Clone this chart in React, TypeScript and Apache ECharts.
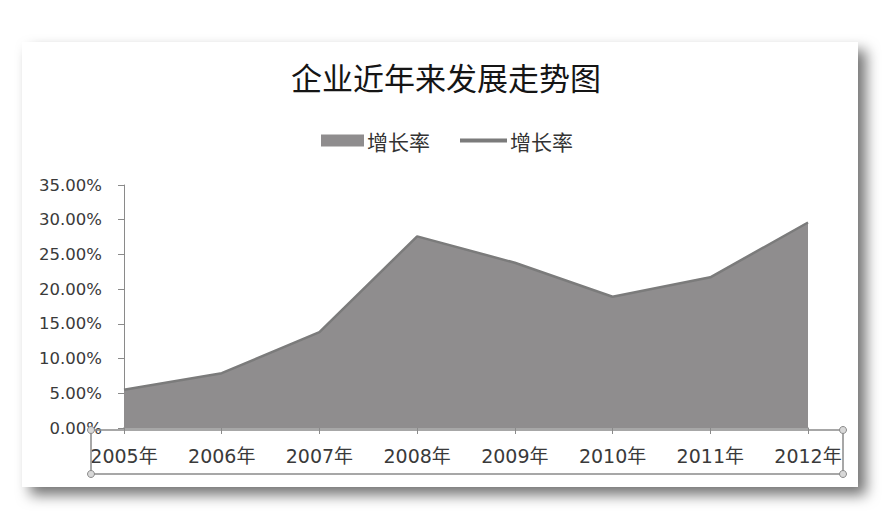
import React, { useEffect, useRef } from "react";
import * as echarts from "echarts";

const categories = ["2005年", "2006年", "2007年", "2008年", "2009年", "2010年", "2011年", "2012年"];
const growthRate = [5.5, 7.9, 13.8, 27.6, 23.8, 18.9, 21.7, 29.6];
const seriesName = "增长率";
const titleText = "企业近年来发展走势图";

export default function App() {
  const ref = useRef<HTMLDivElement>(null);
  useEffect(() => {
    if (!ref.current) return;
    const chart = echarts.init(ref.current, null, { renderer: "svg" });
    const cjk = "'Noto Sans CJK SC', sans-serif";
    const num = "'DejaVu Sans', 'Noto Sans CJK SC', sans-serif";
    chart.setOption({
      animation: false,
      backgroundColor: "#ffffff",
      title: {
        text: titleText,
        left: "center",
        top: 56,
        textStyle: { fontFamily: cjk, fontSize: 31, fontWeight: "normal", color: "#151515" },
      },
      legend: [
        {
          left: 316,
          top: 125,
          itemWidth: 43,
          itemHeight: 12,
          itemGap: 4,
          selectedMode: false,
          textStyle: { fontFamily: cjk, fontSize: 21, color: "#333", padding: [0, 0, 0, -2] },
          data: [{ name: seriesName, icon: "rect", itemStyle: { color: "#8f8d8e" } }],
        },
        {
          left: 455,
          top: 125,
          itemWidth: 47,
          itemHeight: 4,
          selectedMode: false,
          textStyle: { fontFamily: cjk, fontSize: 21, color: "#333", padding: [0, 0, 0, -2] },
          data: [{ name: seriesName, icon: "rect", itemStyle: { color: "#7b7b7b" } }],
        },
      ],
      grid: { left: 124, right: 84, top: 185, bottom: 87 },
      xAxis: {
        type: "category",
        data: categories,
        boundaryGap: false,
        axisLine: { lineStyle: { color: "#8a8a8a", width: 1.5 } },
        axisTick: { alignWithLabel: true, length: 6, lineStyle: { color: "#8a8a8a" } },
        axisLabel: { fontFamily: num, fontSize: 19, color: "#3a3a3a", margin: 18 },
      },
      yAxis: {
        type: "value",
        min: 0,
        max: 35,
        interval: 5,
        axisLine: { show: true, lineStyle: { color: "#8a8a8a" } },
        axisTick: { show: true, length: 6, lineStyle: { color: "#8a8a8a" } },
        splitLine: { show: false },
        axisLabel: {
          fontFamily: num,
          fontSize: 16.5,
          color: "#3a3a3a",
          margin: 22,
          formatter: (v: number) => v.toFixed(2) + "%",
        },
      },
      graphic: [
        {
          type: "rect",
          z: -10,
          shape: { x: 22, y: 42, width: 836, height: 445 },
          style: {
            fill: "#ffffff",
            shadowBlur: 14,
            shadowOffsetX: 8,
            shadowOffsetY: 8,
            shadowColor: "rgba(0,0,0,0.55)",
          },
        },
        {
          type: "rect",
          z: 100,
          shape: { x: 91, y: 430, width: 752, height: 44 },
          style: { fill: "none", stroke: "#8a8a8a", lineWidth: 1.5 },
        },
        ...[
          [91, 430],
          [843, 430],
          [91, 474],
          [843, 474],
        ].map(([cx, cy]) => ({
          type: "circle",
          z: 101,
          shape: { cx, cy, r: 3.5 },
          style: { fill: "#d8d8d8", stroke: "#8a8a8a", lineWidth: 1 },
        })),
      ],
      series: [
        {
          name: seriesName,
          type: "line",
          data: growthRate,
          symbol: "none",
          lineStyle: { width: 0 },
          areaStyle: { color: "#8f8d8e", opacity: 1 },
          itemStyle: { color: "#8f8d8e" },
        },
        {
          name: seriesName,
          type: "line",
          data: growthRate,
          symbol: "none",
          lineStyle: { width: 2.5, color: "#7b7b7b" },
          itemStyle: { color: "#7b7b7b" },
        },
      ],
    });
    return () => chart.dispose();
  }, []);
  return (
    <div
      ref={ref}
      style={{ position: "absolute", left: 0, top: 0, width: 892, height: 515 }}
    />
  );
}
